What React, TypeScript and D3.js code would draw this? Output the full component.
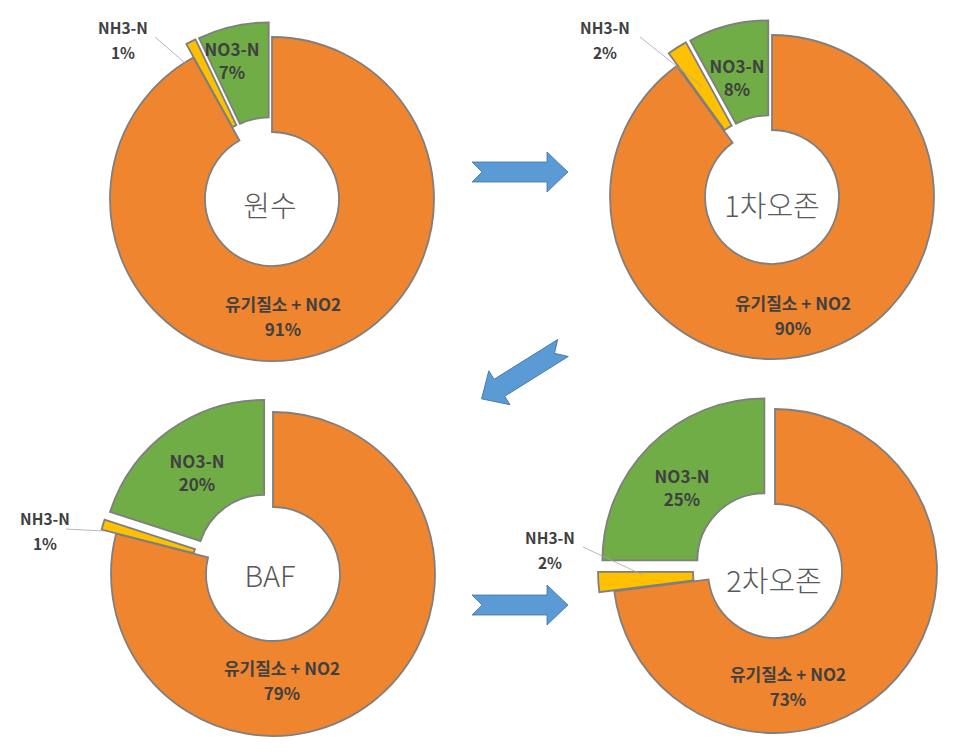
import React from "react";
import * as d3 from "d3";

// ---- data ----
const stages = ["원수", "1차오존", "BAF", "2차오존"];
const categories = ["유기질소 + NO2", "NH3-N", "NO3-N"];
const organicN = [91, 90, 79, 73];
const nh3N = [1, 2, 1, 2];
const no3N = [7, 8, 20, 25];

const colors = ["#F08530", "#FFC000", "#70AD47"];

// ---- layout ----
const W = 965;
const H = 756;
const R = 162;
const RIN = 67;
const EXPLODE = [0, 15, 15];

type Layout = {
  cx: number; cy: number;
  centerLabel: [number, number];
  orangeLbl: [number, number];
  greenLbl: [number, number];
  nh3Lbl: [number, number];
  leader: [number, number, number, number];
};

const layouts: Layout[] = [
  { cx: 272, cy: 199, centerLabel: [270, 204], orangeLbl: [11, 104], greenLbl: [-40, -151], nh3Lbl: [123, 27], leader: [155, 37, 185, 63] },
  { cx: 772, cy: 197, centerLabel: [772, 204], orangeLbl: [21, 105], greenLbl: [-35, -132], nh3Lbl: [605, 27], leader: [640, 37, 703, 87] },
  { cx: 273, cy: 574, centerLabel: [270, 574], orangeLbl: [9, 93], greenLbl: [-76, -114], nh3Lbl: [45, 518], leader: [66, 529, 104, 531] },
  { cx: 775, cy: 571, centerLabel: [774, 579], orangeLbl: [13, 102], greenLbl: [-93, -96], nh3Lbl: [550, 537], leader: [583, 547, 643, 575] },
];

// arrows: tail point and angle (deg)
const arrows = [
  { x: 472, y: 172, a: 0 },
  { x: 563, y: 348, a: 148 },
  { x: 472, y: 605, a: 0 },
];

const arrowPath = (() => {
  const L = 96, hl = 21, sh = 10, hh = 20, notch = 10;
  return `M0,${-sh}L${L - hl},${-sh}L${L - hl},${-hh}L${L},0L${L - hl},${hh}L${L - hl},${sh}L0,${sh}L${notch},0Z`;
})();

const labelFont = "'Noto Sans CJK KR', 'Noto Sans', sans-serif";
const LBL = 17;

function Donut({ idx }: { idx: number }) {
  const lay = layouts[idx];
  const values = [organicN[idx], nh3N[idx], no3N[idx]];
  const pie = d3.pie<number>().sort(null).startAngle(0).endAngle(2 * Math.PI);
  const arcs = pie(values);
  const arcGen = d3.arc<d3.PieArcDatum<number>>().innerRadius(RIN).outerRadius(R);
  return (
    <g>
      <g transform={`translate(${lay.cx},${lay.cy})`}>
        {arcs.map((a, i) => {
          const mid = (a.startAngle + a.endAngle) / 2;
          const dx = Math.sin(mid) * EXPLODE[i];
          const dy = -Math.cos(mid) * EXPLODE[i];
          return (
            <path
              key={i}
              d={arcGen(a) || ""}
              transform={`translate(${dx},${dy})`}
              fill={colors[i]}
              stroke="#7F7F7F"
              strokeWidth={1.8}
              strokeLinejoin="miter"
            />
          );
        })}
        <text x={lay.orangeLbl[0]} y={lay.orangeLbl[1]} textAnchor="middle" dominantBaseline="central"
          fontFamily={labelFont} fontWeight="bold" fontSize={LBL} fill="#404040">
          {categories[0]}
        </text>
        <text x={lay.orangeLbl[0]} y={lay.orangeLbl[1] + 25} textAnchor="middle" dominantBaseline="central"
          fontFamily={labelFont} fontWeight="bold" fontSize={LBL} fill="#404040">
          {`${organicN[idx]}%`}
        </text>
        <text x={lay.greenLbl[0]} y={lay.greenLbl[1]} textAnchor="middle" dominantBaseline="central"
          fontFamily={labelFont} fontWeight="bold" fontSize={LBL} fill="#404040">
          {categories[2]}
        </text>
        <text x={lay.greenLbl[0]} y={lay.greenLbl[1] + 23} textAnchor="middle" dominantBaseline="central"
          fontFamily={labelFont} fontWeight="bold" fontSize={LBL} fill="#404040">
          {`${no3N[idx]}%`}
        </text>
      </g>
      <line x1={lay.leader[0]} y1={lay.leader[1]} x2={lay.leader[2]} y2={lay.leader[3]}
        stroke="#A6A6A6" strokeWidth={0.8} />
      <text x={lay.nh3Lbl[0]} y={lay.nh3Lbl[1]} textAnchor="middle" dominantBaseline="central"
        fontFamily={labelFont} fontWeight="bold" fontSize={15.5} fill="#404040">
        {categories[1]}
      </text>
      <text x={lay.nh3Lbl[0]} y={lay.nh3Lbl[1] + 25} textAnchor="middle" dominantBaseline="central"
        fontFamily={labelFont} fontWeight="bold" fontSize={15.5} fill="#404040">
        {`${nh3N[idx]}%`}
      </text>
      <text x={lay.centerLabel[0]} y={lay.centerLabel[1]} textAnchor="middle" dominantBaseline="central"
        fontFamily={labelFont} fontWeight={300} fontSize={29} fill="#595959">
        {stages[idx]}
      </text>
    </g>
  );
}

export default function App() {
  return (
    <svg width={W} height={H} viewBox={`0 0 ${W} ${H}`}
      style={{ position: "absolute", left: 0, top: 0, background: "#fff" }}>
      <rect x={0} y={0} width={W} height={H} fill="#fff" />
      {stages.map((_, i) => <Donut key={i} idx={i} />)}
      {arrows.map((a, i) => (
        <path key={i} d={arrowPath} transform={`translate(${a.x},${a.y}) rotate(${a.a})`}
          fill="#5B9BD5" stroke="#41719C" strokeWidth={0.8} />
      ))}
    </svg>
  );
}
